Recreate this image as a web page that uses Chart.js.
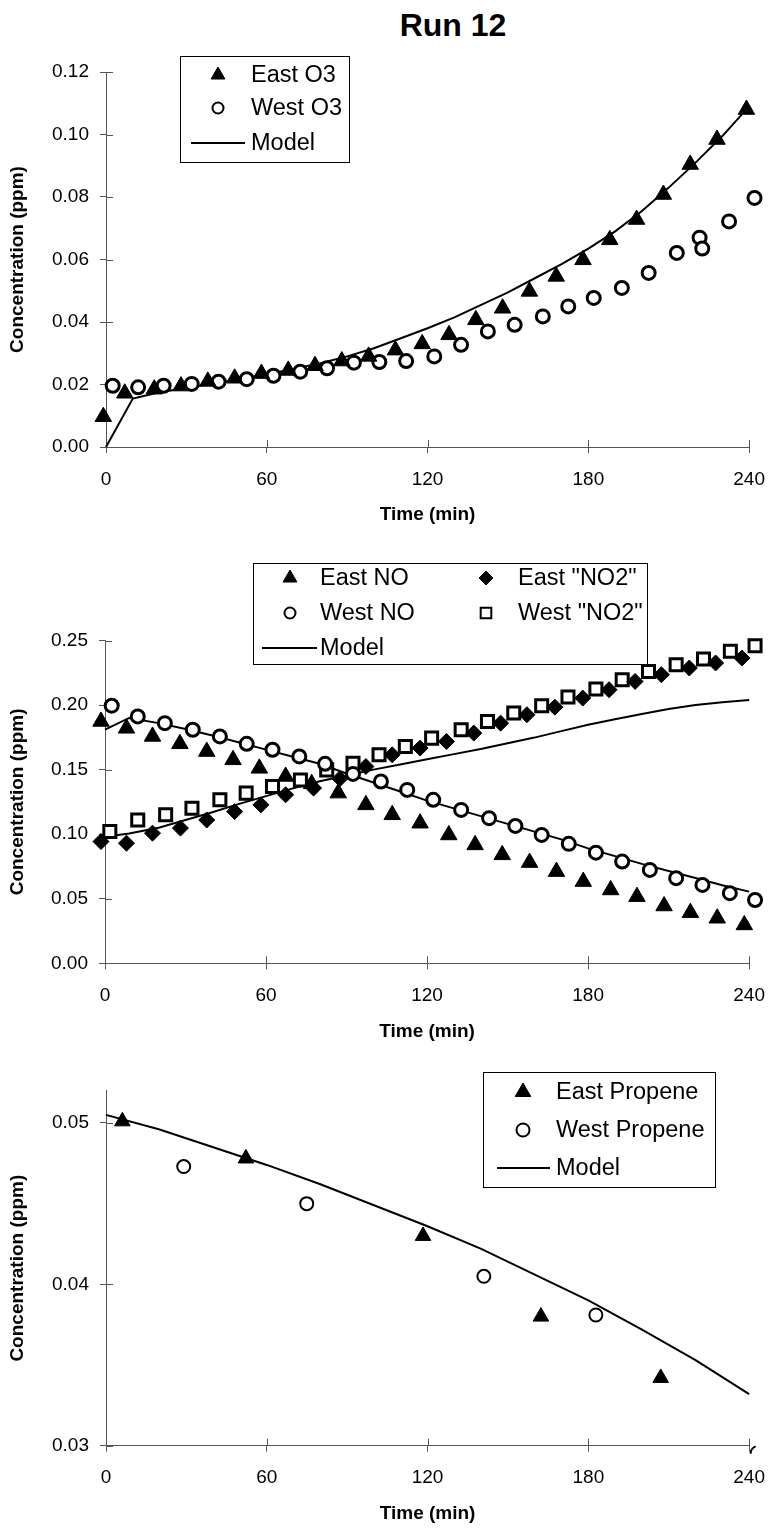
<!DOCTYPE html>
<html>
<head>
<meta charset="utf-8">
<script src="https://cdn.jsdelivr.net/npm/chart.js"></script>
<style>
html,body{margin:0;padding:0;background:#fff;}
#wrap{position:relative;width:780px;height:1529px;overflow:hidden;}
.cw{position:absolute;left:0;width:780px;}
#title{position:absolute;left:303px;width:300px;top:8px;text-align:center;font:bold 32px "Liberation Sans",Arial,Helvetica,sans-serif;line-height:34px;color:#000;}
</style>
</head>
<body>
<div id="wrap">
  <div id="title">Run 12</div>
  <div class="cw" style="top:0;height:540px"><canvas id="c1"></canvas></div>
  <div class="cw" style="top:540px;height:510px"><canvas id="c2"></canvas></div>
  <div class="cw" style="top:1050px;height:479px"><canvas id="c3"></canvas></div>
</div>
<script>
// ---------------- DATA ----------------
const timeTicks = [0, 60, 120, 180, 240];
const o3Ticks = [0, 0.02, 0.04, 0.06, 0.08, 0.10, 0.12];
const noxTicks = [0, 0.05, 0.10, 0.15, 0.20, 0.25];
const propTicks = [0.03, 0.04, 0.05];

// Chart 1: O3
const eastO3Time = [-1, 7, 18, 28, 38, 48, 58, 68, 78, 88, 98, 108, 118, 128, 138, 148, 158, 168, 178, 188, 198, 208, 218, 228, 239];
const eastO3Conc = [0.0097, 0.0172, 0.0185, 0.0195, 0.021, 0.022, 0.0235, 0.0245, 0.026, 0.0275, 0.029, 0.031, 0.033, 0.0359, 0.0407, 0.0444, 0.0498, 0.0546, 0.0599, 0.0663, 0.0728, 0.0808, 0.0904, 0.0984, 0.108];
const westO3Time = [2.5, 12, 21.5, 32, 42, 52.5, 62.5, 72.5, 82.5, 92.5, 102, 112, 122.5, 132.5, 142.5, 152.5, 163, 172.5, 182, 192.5, 202.5, 213, 221.5, 222.5, 232.5, 242];
const westO3Conc = [0.0196, 0.0191, 0.0196, 0.0202, 0.0209, 0.0217, 0.0228, 0.0241, 0.0252, 0.027, 0.0272, 0.0275, 0.029, 0.0327, 0.037, 0.0391, 0.0418, 0.045, 0.0477, 0.0509, 0.0557, 0.0621, 0.067, 0.0635, 0.0722, 0.0797];
const modelO3Time = [0, 10, 20, 30, 40, 50, 60, 70, 80, 90, 100, 110, 120, 130, 140, 150, 160, 170, 180, 190, 200, 210, 220, 230, 240];
const modelO3Conc = [0, 0.0155, 0.0175, 0.0189, 0.0203, 0.0218, 0.0233, 0.025, 0.0268, 0.029, 0.0316, 0.0348, 0.038, 0.0415, 0.0455, 0.0495, 0.054, 0.0585, 0.0635, 0.069, 0.0755, 0.083, 0.091, 0.0995, 0.109];

// Chart 2: NO / NO2
const eastNOTime = [-1.5, 8, 17.7, 27.9, 37.9, 47.7, 57.5, 67.3, 77, 86.9, 97.2, 107, 117.4, 128.1, 137.9, 148, 158.2, 168.2, 178.2, 188.4, 198.2, 208.3, 218.1, 228.1, 238.2];
const eastNOConc = [0.1873, 0.182, 0.1757, 0.170, 0.164, 0.1576, 0.151, 0.1447, 0.139, 0.1318, 0.1227, 0.115, 0.1085, 0.0994, 0.0917, 0.084, 0.078, 0.071, 0.0633, 0.0568, 0.0516, 0.0444, 0.0392, 0.0349, 0.0297];
const westNOTime = [2.5, 12.2, 22.3, 32.7, 42.8, 52.8, 62.4, 72.4, 82, 92.4, 102.8, 112.6, 122.3, 132.7, 143.1, 152.9, 162.7, 172.8, 182.9, 192.7, 203, 212.8, 222.6, 232.8, 242.2];
const westNOConc = [0.1995, 0.1912, 0.186, 0.1809, 0.1757, 0.170, 0.1654, 0.1602, 0.1545, 0.1467, 0.1408, 0.1343, 0.1266, 0.1188, 0.1124, 0.1064, 0.0994, 0.0925, 0.0857, 0.0788, 0.0723, 0.0659, 0.0607, 0.0543, 0.049];
const eastNO2Time = [-1.5, 8, 17.7, 28.1, 37.9, 48.3, 58.1, 67.3, 77.7, 87.5, 97.2, 107, 117.4, 127.2, 137.4, 147.4, 157.2, 167.6, 178, 187.8, 197.5, 207.3, 217.7, 227.5, 237.3];
const eastNO2Conc = [0.0943, 0.093, 0.1008, 0.1047, 0.111, 0.1175, 0.1227, 0.1305, 0.1357, 0.143, 0.1524, 0.1615, 0.1667, 0.1718, 0.1783, 0.186, 0.1925, 0.1984, 0.2054, 0.2119, 0.2183, 0.2235, 0.2287, 0.2326, 0.2364];
const westNO2Time = [1.8, 12.2, 22.6, 32.4, 42.8, 52.6, 62.4, 72.8, 82.6, 92.4, 102.1, 111.9, 121.7, 132.7, 142.5, 152.3, 162.7, 172.5, 182.9, 192.7, 202.5, 212.8, 223, 233, 242.2];
const westNO2Conc = [0.102, 0.111, 0.115, 0.120, 0.1266, 0.1318, 0.1369, 0.142, 0.1498, 0.155, 0.1615, 0.1679, 0.1744, 0.1809, 0.1873, 0.1938, 0.1995, 0.2062, 0.2124, 0.2196, 0.226, 0.2312, 0.2357, 0.2416, 0.246];
const modelNOxTime = [0, 9, 20, 30, 40, 50, 60, 70, 80, 90, 100, 110, 120, 130, 140, 150, 160, 170, 180, 190, 200, 210, 220, 230, 240];
const modelNOConc = [0.181, 0.190, 0.186, 0.1815, 0.1765, 0.171, 0.1655, 0.160, 0.1545, 0.147, 0.140, 0.133, 0.126, 0.120, 0.114, 0.108, 0.102, 0.096, 0.089, 0.083, 0.077, 0.0715, 0.066, 0.0605, 0.0555];
const modelNO2Conc = [0.098, 0.1005, 0.105, 0.111, 0.117, 0.1235, 0.1295, 0.1355, 0.141, 0.1455, 0.150, 0.154, 0.158, 0.162, 0.166, 0.1705, 0.1748, 0.1798, 0.1847, 0.189, 0.193, 0.1969, 0.200, 0.2022, 0.204];

// Chart 3: Propene
const eastPropTime = [6.1, 52.2, 118.3, 162.3, 207];
const eastPropConc = [0.0501, 0.0478, 0.0430, 0.0380, 0.0342];
const westPropTime = [29, 74.9, 141, 182.8, 243];
const westPropConc = [0.0473, 0.0450, 0.0405, 0.0381, 0.02955];
const modelPropTime = [0, 20, 40, 60, 80, 100, 120, 140, 160, 180, 200, 220, 240];
const modelPropConc = [0.0505, 0.0496, 0.0485, 0.0474, 0.0462, 0.0449, 0.0436, 0.0422, 0.0406, 0.0390, 0.0372, 0.0353, 0.0332];

// ---------------- HELPERS ----------------
const AX = '#555';
const FONT = '"Liberation Sans", Arial, Helvetica, sans-serif';
Chart.defaults.font.family = FONT;
Chart.defaults.color = '#000';
Chart.defaults.animation = false;

function pts(t, v) { return t.map((x, i) => ({x: x, y: v[i]})); }

function marks(label, t, v, style, r, filled, bw, clip) {
  return {
    label: label, data: pts(t, v), showLine: false,
    pointStyle: style, pointRadius: r, pointHoverRadius: r,
    pointBorderWidth: bw, pointBorderColor: '#000',
    pointBackgroundColor: filled ? '#000' : '#fff',
    clip: clip === undefined ? false : clip,
    _legend: {style: style, r: r, filled: filled, bw: bw}
  };
}
function model(label, t, v) {
  return {label: label, data: pts(t, v), showLine: true, borderColor: '#000', borderWidth: 2,
    pointRadius: 0, pointHoverRadius: 0, tension: 0, clip: false};
}

function drawMark(ctx, m, x, y) {
  ctx.save();
  ctx.beginPath();
  const r = m.r;
  if (m.style === 'triangle') {
    for (let k = 0; k < 3; k++) {
      const a = k * 2 * Math.PI / 3;
      const px = x + Math.sin(a) * r, py = y - Math.cos(a) * r;
      if (k === 0) ctx.moveTo(px, py); else ctx.lineTo(px, py);
    }
  } else if (m.style === 'circle') {
    ctx.arc(x, y, r, 0, Math.PI * 2);
  } else if (m.style === 'rectRot') {
    ctx.moveTo(x, y - r); ctx.lineTo(x + r, y); ctx.lineTo(x, y + r); ctx.lineTo(x - r, y);
  } else {
    const s = r * Math.SQRT1_2;
    ctx.rect(x - s, y - s, 2 * s, 2 * s);
  }
  ctx.closePath();
  ctx.fillStyle = m.filled ? '#000' : '#fff';
  ctx.fill();
  ctx.lineWidth = m.bw;
  ctx.strokeStyle = '#000';
  ctx.stroke();
  ctx.restore();
}

const boxLegend = {
  id: 'boxLegend',
  afterDraw(chart, args, opts) {
    const ctx = chart.ctx;
    ctx.save();
    const b = opts.box;
    ctx.fillStyle = '#fff';
    ctx.fillRect(b[0], b[1], b[2] - b[0], b[3] - b[1]);
    ctx.strokeStyle = '#000';
    ctx.lineWidth = 1;
    ctx.strokeRect(b[0] + 0.5, b[1] + 0.5, b[2] - b[0], b[3] - b[1]);
    ctx.font = '23.5px ' + FONT;
    ctx.fillStyle = '#000';
    ctx.textBaseline = 'middle';
    ctx.textAlign = 'left';
    opts.items.forEach(it => {
      const ds = chart.data.datasets[it.ds];
      if (it.line) {
        ctx.beginPath();
        ctx.lineWidth = 2;
        ctx.moveTo(it.line[0], it.y);
        ctx.lineTo(it.line[1], it.y);
        ctx.stroke();
      } else {
        const m = Object.assign({}, ds._legend, it.mark || {});
        drawMark(ctx, m, it.mx, it.y);
      }
      ctx.fillStyle = '#000';
      ctx.fillText(ds.label, it.tx, it.y + 1);
    });
    ctx.restore();
  }
};

const innerTicks = {
  id: 'innerTicks',
  beforeDatasetsDraw(chart) {
    const ctx = chart.ctx, ca = chart.chartArea;
    const xs = chart.scales.x, ys = chart.scales.y;
    ctx.save();
    ctx.strokeStyle = AX;
    ctx.lineWidth = 1;
    xs.ticks.forEach(t => {
      const px = Math.round(xs.getPixelForValue(t.value)) + 0.5;
      ctx.beginPath(); ctx.moveTo(px, ca.bottom); ctx.lineTo(px, ca.bottom - 7); ctx.stroke();
    });
    ys.ticks.forEach(t => {
      const py = Math.round(ys.getPixelForValue(t.value)) + 0.5;
      ctx.beginPath(); ctx.moveTo(ca.left, py); ctx.lineTo(ca.left + 7, py); ctx.stroke();
    });
    ctx.restore();
  }
};

function scales(c) {
  return {
    x: {
      type: 'linear', min: 0, max: 240,
      afterBuildTicks: s => { s.ticks = c.xTicks.map(v => ({value: v})); },
      afterFit: s => { s.height = c.xH; },
      grid: {drawOnChartArea: false, drawTicks: true, tickLength: 6, color: AX, lineWidth: 1},
      border: {display: true, color: AX, width: 1},
      ticks: {font: {size: 19}, color: '#000', padding: 15, maxRotation: 0, autoSkip: false,
        callback: v => String(v)},
      title: {display: true, text: 'Time (min)', color: '#000',
        font: {size: 19, weight: 'bold'}, padding: {top: 0, bottom: c.xTitlePad}}
    },
    y: {
      type: 'linear', min: c.yMin, max: c.yMax,
      afterBuildTicks: s => { s.ticks = c.yTicks.map(v => ({value: v})); },
      afterFit: s => { s.width = c.yW; },
      grid: {drawOnChartArea: false, drawTicks: true, tickLength: 6, color: AX, lineWidth: 1},
      border: {display: true, color: AX, width: 1},
      ticks: {font: {size: 19}, color: '#000', padding: 11, autoSkip: false,
        callback: v => Number(v).toFixed(2)},
      title: {display: true, text: 'Concentration (ppm)', color: '#000',
        font: {size: 19, weight: 'bold'}, padding: {top: 6.6, bottom: 0}}
    }
  };
}

function make(id, datasets, c, legend) {
  return new Chart(document.getElementById(id), {
    type: 'scatter',
    data: {datasets: datasets},
    options: {
      responsive: true, maintainAspectRatio: false, animation: false,
      layout: {padding: {top: c.padTop, right: c.padRight, left: 0, bottom: 0}},
      plugins: {legend: {display: false}, tooltip: {enabled: false}, boxLegend: legend},
      scales: scales(c),
      events: []
    },
    plugins: [innerTicks, boxLegend]
  });
}

// ---------------- CHART 1 ----------------
make('c1', [
  marks('East O3', eastO3Time, eastO3Conc, 'triangle', 9.5, true, 1),
  marks('West O3', westO3Time, westO3Conc, 'circle', 6.5, false, 3),
  model('Model', modelO3Time, modelO3Conc)
], {xTicks: timeTicks, yTicks: o3Ticks, yMin: 0, yMax: 0.12, yW: 106, xH: 93, xTitlePad: 13.6, padTop: 72, padRight: 19.5},
{
  box: [180, 56, 349, 162],
  items: [
    {ds: 0, mx: 218, tx: 251, y: 75, mark: {r: 8}},
    {ds: 1, mx: 218, tx: 251, y: 108, mark: {r: 5.5, bw: 2}},
    {ds: 2, line: [191, 245], tx: 251, y: 143}
  ]
});

// ---------------- CHART 2 ----------------
make('c2', [
  marks('East NO', eastNOTime, eastNOConc, 'triangle', 9.5, true, 1),
  marks('West NO', westNOTime, westNOConc, 'circle', 6.5, false, 3),
  marks('East "NO2"', eastNO2Time, eastNO2Conc, 'rectRot', 8, true, 1),
  marks('West "NO2"', westNO2Time, westNO2Conc, 'rect', 8.5, false, 3),
  model('Model', modelNOxTime, modelNOConc),
  model('Model', modelNOxTime, modelNO2Conc)
], {xTicks: timeTicks, yTicks: noxTicks, yMin: 0, yMax: 0.25, yW: 105, xH: 86.7, xTitlePad: 7.3, padTop: 100.5, padRight: 21},
{
  box: [253, 23, 647, 124],
  items: [
    {ds: 0, mx: 290, tx: 320, y: 38, mark: {r: 8}},
    {ds: 1, mx: 290, tx: 320, y: 73, mark: {r: 5.5, bw: 2}},
    {ds: 4, line: [262, 317], tx: 320, y: 108},
    {ds: 2, mx: 486, tx: 518, y: 38, mark: {r: 7}},
    {ds: 3, mx: 486, tx: 518, y: 73, mark: {r: 7.5, bw: 2}}
  ]
});

// ---------------- CHART 3 ----------------
make('c3', [
  marks('East Propene', eastPropTime, eastPropConc, 'triangle', 9, true, 1),
  marks('West Propene', westPropTime, westPropConc, 'circle', 6.5, false, 2, {left: 10, top: 10, right: 6.5, bottom: 8}),
  model('Model', modelPropTime, modelPropConc)
], {xTicks: timeTicks, yTicks: propTicks, yMin: 0.03, yMax: 0.052, yW: 106, xH: 83.3, xTitlePad: 3.9, padTop: 40.7, padRight: 19.3},
{
  box: [483, 22, 715, 137],
  items: [
    {ds: 0, mx: 523, tx: 556, y: 42, mark: {r: 9}},
    {ds: 1, mx: 523, tx: 556, y: 80, mark: {r: 6.5, bw: 2}},
    {ds: 2, line: [497, 550], tx: 556, y: 118}
  ]
});
</script>
</body>
</html>
